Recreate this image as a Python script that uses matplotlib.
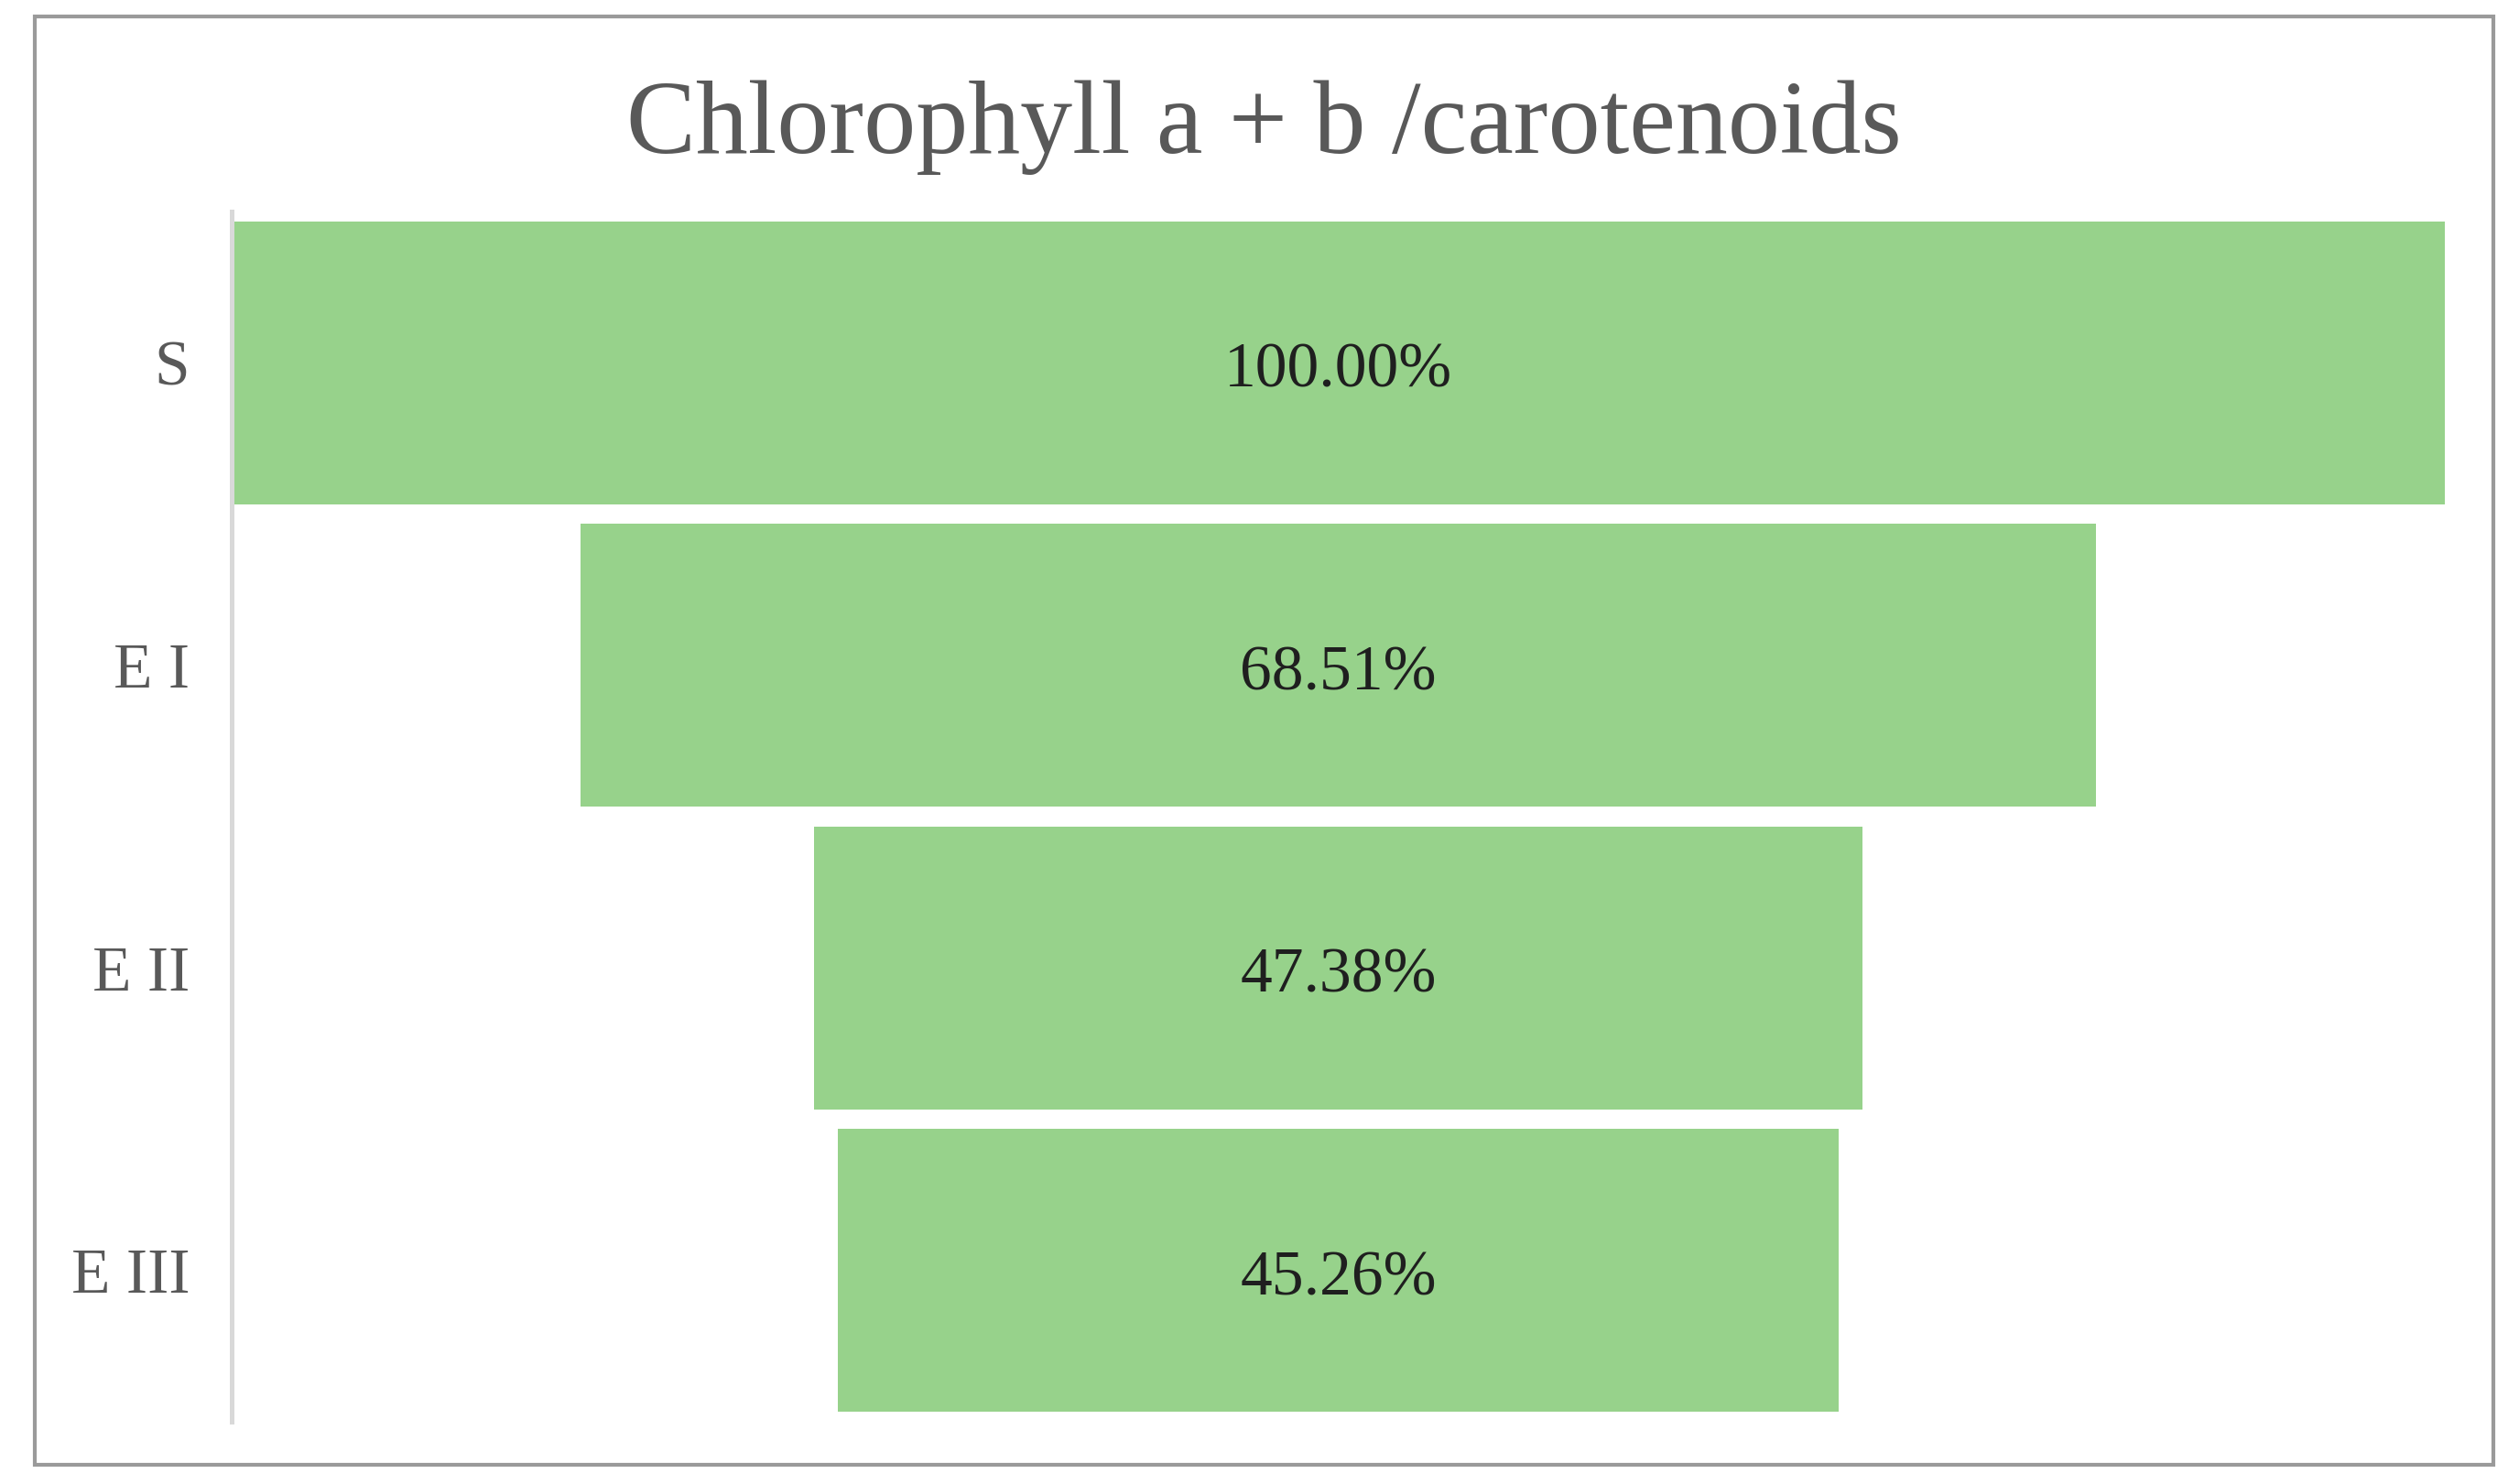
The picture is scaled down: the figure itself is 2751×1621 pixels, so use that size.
import matplotlib.pyplot as plt
from matplotlib.patches import Rectangle

# Data
categories = ['S', 'E I', 'E II', 'E III']
values = [100.00, 68.51, 47.38, 45.26]
title = 'Chlorophyll a + b /carotenoids'

W, H = 2751, 1621
fig = plt.figure(figsize=(W / 100, H / 100), dpi=100)
plt.rcParams['font.family'] = ['Liberation Serif', 'DejaVu Serif']

# Outer frame around the chart
fig.patches.append(Rectangle((38 / W, (H - 1600) / H), (2723 - 38) / W, (1600 - 18) / H,
                             transform=fig.transFigure, fill=False,
                             edgecolor='#9a9a9a', linewidth=3))

# Plot area in pixels
left, right, top, bottom = 253, 2670, 231, 1553
ax = fig.add_axes([left / W, (H - bottom) / H, (right - left) / W, (bottom - top) / H])

y = list(range(len(categories)))
lefts = [(100 - v) / 2 for v in values]
ax.barh(y, values, left=lefts, height=0.935, color='#97d28b', edgecolor='none')

for yi, v in zip(y, values):
    ax.text(50, yi + 0.03, f'{v:.2f}%', ha='center', va='center', fontsize=50, color='#1f1f1f')

ax.set_xlim(0, 100)
ax.set_ylim(len(categories) - 0.5, -0.5)
ax.set_yticks(y)
ax.set_yticklabels(categories, fontsize=50, color='#595959')
ax.tick_params(axis='y', length=0, pad=33)
ax.set_xticks([])
for s in ['top', 'right', 'bottom']:
    ax.spines[s].set_visible(False)
ax.spines['left'].set_color('#d9d9d9')
ax.spines['left'].set_linewidth(3.6)

fig.text(1380 / W, 1 - 167 / H, title, ha='center', va='baseline', fontsize=82, color='#595959')

fig.savefig('out.png', dpi=100)
